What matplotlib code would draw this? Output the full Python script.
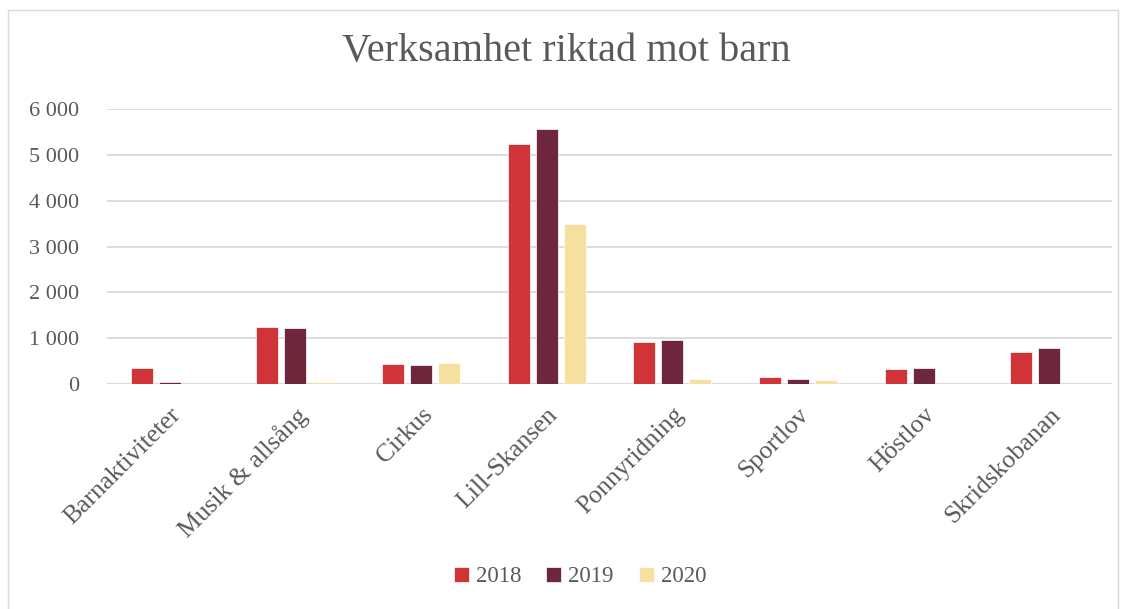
import matplotlib.pyplot as plt
import numpy as np
from matplotlib.patches import Rectangle

categories = ['Barnaktiviteter', 'Musik & allsång', 'Cirkus', 'Lill-Skansen',
              'Ponnyridning', 'Sportlov', 'Höstlov', 'Skridskobanan']
v2018 = [350, 1245, 435, 5240, 910, 145, 335, 705]
v2019 = [40, 1220, 415, 5570, 960, 100, 350, 785]
v2020 = [0, 40, 460, 3490, 115, 85, 5, 0]
years = ['2018', '2019', '2020']
colors = ['#D13438', '#6E263C', '#F6E09F']
yticks = [0, 1000, 2000, 3000, 4000, 5000, 6000]

plt.rcParams['font.family'] = ['Liberation Serif', 'DejaVu Serif']
txt = '#595959'

fig = plt.figure(figsize=(11.32, 6.09), dpi=100)
fig.patches.append(Rectangle((8 / 1132, -0.01), 1110 / 1132, 1 - 10 / 609 + 0.01,
                             transform=fig.transFigure, fill=False,
                             edgecolor='#D9D9D9', linewidth=1))
ax = fig.add_axes([107 / 1132, (609 - 384) / 609, 1005 / 1132, 275 / 609])

x = np.arange(len(categories))
w = 0.175
step = 0.223
for i, (vals, yr, c) in enumerate(zip([v2018, v2019, v2020], years, colors)):
    ax.bar(x + (i - 1) * step, vals, width=w, color=c, label=yr, zorder=3,
           edgecolor='white', linewidth=0.5)

ax.set_xlim(-0.5, len(categories) - 0.5)
ax.set_ylim(0, 6000)
ax.set_yticks(yticks)
ax.set_yticklabels([f'{v:,}'.replace(',', ' ') for v in yticks], fontsize=16, color=txt)
ax.set_xticks(x)
ax.set_xticklabels(categories, rotation=45, ha='right', rotation_mode='anchor',
                   fontsize=18.5, color=txt)
ax.tick_params(axis='y', length=0, pad=20)
ax.tick_params(axis='x', length=0, pad=14)
ax.grid(axis='y', color='#D9D9D9', linewidth=1.3, zorder=0)
for s in ax.spines.values():
    s.set_visible(False)

fig.text(0.5, 1 - 52 / 609, 'Verksamhet riktad mot barn', ha='center', va='center',
         fontsize=29, color=txt)
fig.legend(loc='center', bbox_to_anchor=(580 / 1132, 1 - 577 / 609), ncol=3,
           frameon=False, fontsize=16.5, handlelength=0.65, handleheight=0.65,
           handletextpad=0.3, columnspacing=1.1, labelcolor=txt)

fig.savefig('out.png', dpi=100)
